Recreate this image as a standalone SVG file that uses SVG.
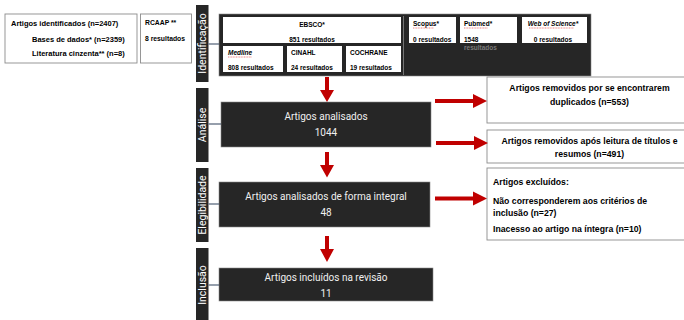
<svg xmlns="http://www.w3.org/2000/svg" width="684" height="320" viewBox="0 0 684 320">
<defs>
<style>
.bg{fill:#ffffff}
.wbox{fill:#ffffff;stroke:#8c8c8c;stroke-width:0.9}
.dark{fill:#262626;stroke:#8a8a8a;stroke-width:0.6}
.bar{fill:#262626}
.bartx{font-family:Roboto,"Liberation Sans",sans-serif;font-size:10.5px;fill:#ffffff;text-anchor:middle}
.lt{font-family:"Liberation Sans",Arial,sans-serif;font-weight:bold;font-size:7.5px;fill:#000}
.sm{font-family:"Liberation Sans",Arial,sans-serif;font-weight:bold;font-size:6.5px;fill:#000}
.rt{font-family:"Liberation Sans",Arial,sans-serif;font-weight:bold;font-size:8.7px;fill:#000}
.dt{font-family:Roboto,"Liberation Sans",sans-serif;font-size:10px;fill:#f0f0f0;text-anchor:middle}
.ibox{fill:#ffffff}
.conn{stroke:#4f5f75;stroke-width:1.2;fill:none}
.arrow{fill:#c00000}
.sq{stroke:#e03030;stroke-width:0.6;stroke-dasharray:1 0.6;fill:none}
.mid{text-anchor:middle}
</style>
</defs>
<rect class="bg" x="0" y="0" width="684" height="320"/>

<g id="identificados">
<rect class="wbox" x="5" y="14" width="132" height="49"/>
<text class="lt" x="11" y="26">Artigos identificados (n=2407)</text>
<text class="lt" x="32" y="42">Bases de dados* (n=2359)</text>
<text class="lt" x="32" y="56">Literatura cinzenta** (n=8)</text>
</g>

<g id="rcaap">
<rect class="wbox" x="140.5" y="14" width="51" height="49"/>
<text class="sm" x="145" y="25" style="font-size:6.8px">RCAAP **</text>
<text class="sm" x="145" y="41" style="font-size:6.8px">8 resultados</text>
</g>

<g id="stage-identificacao">
<rect class="bar" x="196" y="5" width="12.5" height="77"/>
<text class="bartx" transform="translate(206 43.5) rotate(-90)">Identificação</text>
</g>
<g id="stage-analise">
<rect class="bar" x="196" y="88" width="12.5" height="74"/>
<text class="bartx" transform="translate(206 125) rotate(-90)">Análise</text>
</g>
<g id="stage-elegibilidade">
<rect class="bar" x="196" y="168" width="12.5" height="74"/>
<text class="bartx" transform="translate(206 205) rotate(-90)">Elegibilidade</text>
</g>
<g id="stage-inclusao">
<rect class="bar" x="196" y="248" width="12.5" height="80"/>
<text class="bartx" transform="translate(206 285) rotate(-90)">Inclusão</text>
</g>

<g id="bases">
<rect class="dark" x="219" y="14" width="372" height="62"/>
<line x1="403.5" y1="16" x2="403.5" y2="75" stroke="#8a8a8a" stroke-width="0.8"/>
<g id="ebsco">
<rect class="ibox" x="223" y="17" width="178" height="26"/>
<text class="sm mid" x="312" y="27">EBSCO*</text>
<text class="sm mid" x="312" y="41.5">851 resultados</text>
</g>
<g id="medline">
<rect class="ibox" x="223" y="46" width="60" height="26"/>
<text class="sm" x="228" y="55" font-style="italic">Medline</text>
<line class="sq" x1="228" y1="57" x2="252" y2="57"/>
<text class="sm" x="228" y="70">808 resultados</text>
</g>
<g id="cinahl">
<rect class="ibox" x="287" y="46" width="55" height="26"/>
<text class="sm" x="291" y="55">CINAHL</text>
<text class="sm" x="291" y="70">24 resultados</text>
</g>
<g id="cochrane">
<rect class="ibox" x="346" y="46" width="55" height="26"/>
<text class="sm" x="350" y="55">COCHRANE</text>
<text class="sm" x="350" y="70">19 resultados</text>
</g>
<g id="scopus">
<rect class="ibox" x="409" y="17" width="47" height="26"/>
<text class="sm" x="413" y="26">Scopus*</text>
<line class="sq" x1="413" y1="28" x2="434" y2="28"/>
<text class="sm" x="413" y="41.5">0 resultados</text>
</g>
<g id="pubmed">
<rect class="ibox" x="460" y="17" width="57" height="26"/>
<text class="sm" x="464" y="26">Pubmed*</text>
<line class="sq" x1="464" y1="28" x2="488" y2="28"/>
<text class="sm" x="464" y="41.5">1548</text>
<text class="sm" x="464" y="49.5" style="fill:#7a7a7a">resultados</text>
</g>
<g id="wos">
<rect class="ibox" x="522" y="17" width="65" height="26"/>
<text class="sm mid" x="553" y="26" font-style="italic">Web of Science*</text>
<line class="sq" x1="529" y1="28" x2="574" y2="28"/>
<text class="sm mid" x="553" y="41.5">0 resultados</text>
</g>
</g>

<g id="analisados">
<rect class="dark" x="221" y="102" width="210" height="45"/>
<text class="dt" x="326" y="119.5">Artigos analisados</text>
<text class="dt" x="326" y="135.5">1044</text>
</g>

<g id="integral">
<rect class="dark" x="219" y="182" width="211" height="45"/>
<text class="dt" x="326" y="199.5">Artigos analisados de forma integral</text>
<text class="dt" x="326" y="215.5">48</text>
</g>

<g id="incluidos">
<rect class="dark" x="219" y="268" width="214" height="33"/>
<text class="dt" x="326" y="281">Artigos incluídos na revisão</text>
<text class="dt" x="326" y="296.5">11</text>
</g>

<g id="duplicados">
<rect class="wbox" x="487" y="77" width="210" height="46"/>
<text class="rt mid" x="589.5" y="91">Artigos removidos por se encontrarem</text>
<text class="rt mid" x="589.5" y="105">duplicados (n=553)</text>
</g>

<g id="titulos">
<rect class="wbox" x="487" y="130" width="210" height="33"/>
<text class="rt mid" x="589.5" y="144">Artigos removidos após leitura de títulos e</text>
<text class="rt mid" x="589.5" y="156.5">resumos (n=491)</text>
</g>

<g id="excluidos">
<rect class="wbox" x="487" y="168" width="210" height="72"/>
<text class="rt" x="493" y="185">Artigos excluídos:</text>
<text class="rt" x="493" y="203.5">Não corresponderem aos critérios de</text>
<text class="rt" x="493" y="216">inclusão (n=27)</text>
<text class="rt" x="493" y="232">Inacesso ao artigo na íntegra (n=10)</text>
</g>

<g id="connectors">
<line class="conn" x1="208.5" y1="44" x2="219" y2="44"/>
<line class="conn" x1="208.5" y1="124" x2="221" y2="124"/>
<line class="conn" x1="208.5" y1="204" x2="219" y2="204"/>
<line class="conn" x1="208.5" y1="285" x2="219" y2="285"/>
<polygon class="arrow" points="325,77 329,77 329,90 334,90 327,102 320,90 325,90"/>
<polygon class="arrow" points="325,152 329,152 329,165 334,165 327,177.5 320,165 325,165"/>
<polygon class="arrow" points="325,236 329,236 329,249 334,249 327,262 320,249 325,249"/>
<polygon class="arrow" points="435,99 473,99 473,94 487,101 473,108 473,103 435,103"/>
<polygon class="arrow" points="436,141 474,141 474,136 488,143 474,150 474,145 436,145"/>
<polygon class="arrow" points="435,196.5 473,196.5 473,191.5 487,198.5 473,205.5 473,200.5 435,200.5"/>
</g>
</svg>
